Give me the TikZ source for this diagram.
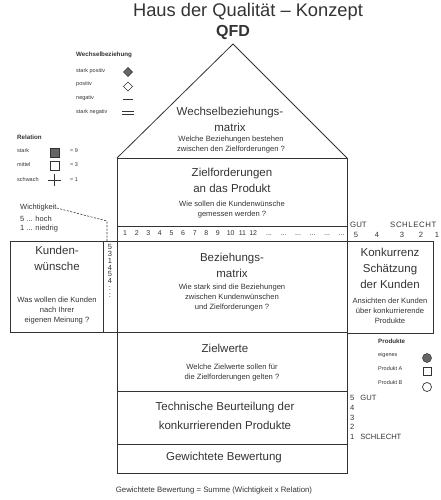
\documentclass[tikz,border=0pt]{standalone}
\usepackage{fontspec}
\setmainfont{Liberation Sans}
\usetikzlibrary{positioning}
\definecolor{ink}{gray}{0.2}
\definecolor{fillg}{gray}{0.4}
\begin{document}
\begin{tikzpicture}[x=1pt,y=-1pt,
  line/.style={draw=ink,line width=0.8pt},
  cell/.style={line,rectangle,inner sep=0pt,anchor=north west},
  big/.style={text=ink,font=\fontsize{11.5}{16}\selectfont,align=center,inner sep=0pt},
  small/.style={text=ink,font=\fontsize{7.6}{10}\selectfont,align=center,inner sep=0pt},
  tiny/.style={text=ink,font=\fontsize{5.5}{7}\selectfont,anchor=west,inner sep=0pt},
  tinyb/.style={text=ink,font=\fontsize{6.2}{7}\selectfont\bfseries,anchor=west,inner sep=0pt},
  wlab/.style={text=ink,font=\fontsize{7.5}{9}\selectfont,anchor=west,inner sep=0pt},
  sclab/.style={text=ink,font=\fontsize{7.6}{9.5}\selectfont,anchor=west,inner sep=0pt},
  sclabc/.style={text=ink,font=\fontsize{7.6}{9.5}\selectfont,inner sep=0pt}]
\useasboundingbox (0,0) rectangle (441,500);
% title
\node[text=ink,font=\fontsize{18.3}{20}\selectfont,inner sep=0pt] (title) at (248,12) {Haus der Qualität – Konzept};
\node[text=ink,font=\fontsize{16}{18}\selectfont\bfseries,inner sep=0pt] (qfd) at (233,32) {QFD};
% roof
\coordinate (apex) at (233,44);
\coordinate (rl) at (117,158);
\coordinate (rr) at (347,158);
\draw[line] (rl) -- (apex) -- (rr);
% boxes
\node[cell,minimum width=230pt,minimum height=68pt] (zf) at (117,158) {};
\node[cell,minimum width=230pt,minimum height=15pt] (nums) at (117,226) {};
\node[cell,minimum width=93pt,minimum height=91pt] (kw) at (10,241) {};
\node[cell,minimum width=14pt,minimum height=91pt] (wcol) at (103,241) {};
\node[cell,minimum width=230pt,minimum height=91pt] (bm) at (117,241) {};
\node[cell,minimum width=86pt,minimum height=92pt] (kk) at (347,241) {};
\node[cell,minimum width=230pt,minimum height=59pt] (zw) at (117,332) {};
\node[cell,minimum width=230pt,minimum height=53pt] (tb) at (117,391) {};
\node[cell,minimum width=230pt,minimum height=29pt] (gb) at (117,444) {};
% roof text
\node[big] (wm) at (230,119) {Wechselbeziehungs-\\matrix};
\node[small] (wmq) at (231,145) {Welche Beziehungen bestehen\\zwischen den Zielforderungen ?};
% Zielforderungen
\node[big] (zft) at (232,180) {Zielforderungen\\an das Produkt};
\node[small] (zfq) at (232,210) {Wie sollen die Kundenwünsche\\gemessen werden ?};
% number row
\node[text=ink,font=\fontsize{7}{8}\selectfont,anchor=west,inner sep=0pt] (nrow) at (123,233.5)
  {1\hspace{7.7pt}2\hspace{7.7pt}3\hspace{7.7pt}4\hspace{7.7pt}5\hspace{7.7pt}6\hspace{7.7pt}7\hspace{7.7pt}8\hspace{7.7pt}9\hspace{7pt}10\hspace{4.2pt}11\hspace{3.2pt}12\hspace{9pt}...\hspace{8.7pt}...\hspace{8.7pt}...\hspace{8.7pt}...\hspace{8.7pt}...\hspace{8.7pt}...};
% right scale
\node[sclab,font=\fontsize{7.8}{9.5}\selectfont] (gut) at (350,224.5) {GUT};
\node[sclab,font=\fontsize{7.8}{9.5}\selectfont] (schl) at (390,224.5) {S\hspace{0.6pt}C\hspace{0.6pt}H\hspace{0.6pt}L\hspace{0.6pt}E\hspace{0.6pt}C\hspace{0.6pt}H\hspace{0.6pt}T};
\node[sclabc] (s5) at (356,235) {5};
\node[sclabc] (s4) at (377,235) {4};
\node[sclabc] (s3) at (402,235) {3};
\node[sclabc] (s2) at (421,235) {2};
\node[sclabc] (s1) at (437,235) {1};
% Kundenwuensche
\node[big] (kwt) at (57,258) {Kunden-\\wünsche};
\node[small] (kwq) at (57,311) {Was wollen die Kunden\\nach Ihrer\\eigenen Meinung ?};
\node[text=ink,font=\fontsize{7.5}{6.9}\selectfont,align=center,inner sep=0pt,anchor=north] (wv) at (110,244) {5\\3\\1\\4\\5\\4\\:\\:};
% Beziehungsmatrix
\node[big] (bmt) at (232,265) {Beziehungs-\\matrix};
\node[small] (bmq) at (232,298) {Wie stark sind die Beziehungen\\zwischen Kundenwünschen\\und Zielforderungen ?};
% Konkurrenz
\node[big] (kkt) at (390,268) {Konkurrenz\\Schätzung\\der Kunden};
\node[small] (kkq) at (390,311) {Ansichten der Kunden\\über konkurrierende\\Produkte};
% Zielwerte
\node[big] (zwt) at (225,348) {Zielwerte};
\node[small] (zwq) at (232,373) {Welche Zielwerte sollen für\\die Zielforderungen gelten ?};
% Technische
\node[big,font=\fontsize{11.5}{19}\selectfont] (tbt) at (225,416) {Technische Beurteilung der\\konkurrierenden Produkte};
% Gewichtete
\node[big] (gbt) at (224,458) {Gewichtete Bewertung};
\node[small,font=\fontsize{7.8}{10}\selectfont] (foot) at (214,490) {Gewichtete Bewertung = Summe (Wichtigkeit x Relation)};
% technical scale
\node[sclab] (t5) at (350,398) {5\hspace{6pt}GUT};
\node[sclab] (t4) at (350,408) {4};
\node[sclab] (t3) at (350,417.5) {3};
\node[sclab] (t2) at (350,427) {2};
\node[sclab] (t1) at (350,437) {1\hspace{6pt}SCHLECHT};
% legend Wechselbeziehung
\node[tinyb] (lw) at (76,55) {Wechselbeziehung};
\node[tiny] (lsp) at (76,71) {stark positiv};
\node[tiny] (lp) at (76,84) {positiv};
\node[tiny] (ln) at (76,98) {negativ};
\node[tiny] (lsn) at (76,112) {stark negativ};
\fill[fillg,draw=ink,line width=0.5pt] (128,67.5) -- (132.5,72) -- (128,76.5) -- (123.5,72) -- cycle;
\draw[ink,line width=0.7pt] (128,82) -- (132.5,86.5) -- (128,91) -- (123.5,86.5) -- cycle;
\draw[ink,line width=0.7pt] (123,99) -- (133,99);
\draw[ink,line width=0.7pt] (122,111.5) -- (134,111.5) (122,114.5) -- (134,114.5);
% legend Relation
\node[tinyb] (lr) at (17,137) {Relation};
\node[tiny] (lrs) at (17,151) {stark};
\node[tiny] (lrm) at (17,165) {mittel};
\node[tiny] (lrw) at (17,180) {schwach};
\fill[fillg,draw=ink,line width=0.5pt] (50,148) rectangle (59,157);
\draw[ink,line width=0.7pt] (50,161) rectangle (59,170);
\draw[ink,line width=0.7pt] (48,180) -- (61,180) (54.5,174) -- (54.5,186);
\node[tiny] (r9) at (70,151) {= 9};
\node[tiny] (r3) at (70,165) {= 3};
\node[tiny] (r1) at (70,180) {= 1};
% Wichtigkeit
\node[wlab] (wi) at (20,208) {Wichtigkeit};
\node[wlab] (wh) at (20,219) {5 ... hoch};
\node[wlab] (wn) at (20,229) {1 ... niedrig};
\coordinate (wbend) at (107,221);
\coordinate (wend) at (107,241);
\draw[ink,dash pattern=on 2pt off 1.5pt,line width=0.6pt] (wi.east) -- (wbend) -- (wend);
% Produkte
\node[tinyb] (lpr) at (378,341) {Produkte};
\node[tiny] (lpe) at (378,355) {eigenes};
\node[tiny] (lpa) at (378,369) {Produkt A};
\node[tiny] (lpb) at (378,383) {Produkt B};
\fill[fillg,draw=ink,line width=0.5pt] (427,358) circle (4.5);
\draw[ink,line width=0.7pt] (423,367) rectangle (431,375);
\draw[ink,line width=0.7pt] (427,387) circle (4.5);
\end{tikzpicture}
\end{document}
